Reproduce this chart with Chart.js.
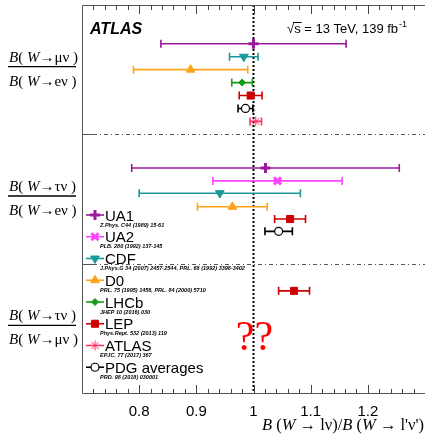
<!DOCTYPE html>
<html>
<head>
<meta charset="utf-8">
<script src="https://cdn.jsdelivr.net/npm/chart.js@4.4.0/dist/chart.umd.min.js"></script>
<style>
  body { margin: 0; background: #fff; }
  #wrap { width: 425px; height: 435px; }
</style>
</head>
<body>
<div id="wrap"><canvas id="myChart" width="425" height="435"></canvas></div>
<script>
// experiments, in legend order
const experiments = ["UA1", "UA2", "CDF", "D0", "LHCb", "LEP", "ATLAS", "PDG averages"];
const references = [
    "Z.Phys. C44 (1989) 15-61",
    "PLB. 280 (1992) 137-145",
    "J.Phys.G 34 (2007) 2457-2544, PRL. 68 (1992) 3398-3402",
    "PRL. 75 (1995) 1456, PRL. 84 (2000) 5710",
    "JHEP 10 (2016) 030",
    "Phys.Rept. 532 (2013) 119",
    "EPJC. 77 (2017) 367",
    "PRD. 98 (2018) 030001"
];
const colors = ["#9a1a9a", "#ff44ff", "#1a9a9a", "#ffa31a", "#1a9a1a", "#cc0000", "#ff3366", "#000000"];
const markers = ["cross", "crossRot", "triangle", "triangle", "rectRot", "rect", "star", "circle"];

// B(W->mu nu)/B(W->e nu)
const muE_val = [1.000, null, 0.983, 0.890, 0.980, 0.995, 1.004, 0.986];
const muE_err = [0.162, null, 0.025, 0.100, 0.018, 0.020, 0.010, 0.013];
const muE_row = [0.30, null, 0.40, 0.50, 0.60, 0.70, 0.90, 0.80];
// B(W->tau nu)/B(W->e nu)
const tauE_val = [1.021, 1.042, 0.941, 0.963, null, 1.064, null, 1.044];
const tauE_err = [0.234, 0.113, 0.141, 0.061, null, 0.027, null, 0.024];
const tauE_row = [1.26, 1.36, 1.455, 1.56, null, 1.655, null, 1.75];
// B(W->tau nu)/B(W->mu nu)
const tauMu_val = [null, null, null, null, null, 1.071, null, null];
const tauMu_err = [null, null, null, null, null, 0.027, null, null];
const tauMu_row = [null, null, null, null, null, 2.21, null, null];

// ratio labels (numerator lepton / denominator lepton)
const numerators = ["\u03bc\u03bd", "\u03c4\u03bd", "\u03c4\u03bd"];
const denominators = ["e\u03bd", "e\u03bd", "\u03bc\u03bd"];

// axis ends carry no label
const xTicks = [0.7, 0.8, 0.9, 1, 1.1, 1.2, 1.3];
const xLabels = ["", "0.8", "0.9", "1", "1.1", "1.2", ""];

function pointsFor(i) {
    const pts = [];
    [[muE_val, muE_err, muE_row], [tauE_val, tauE_err, tauE_row], [tauMu_val, tauMu_err, tauMu_row]]
        .forEach(([v, e, r]) => {
            if (v[i] !== null) pts.push({x: v[i], y: r[i], err: e[i]});
        });
    return pts;
}

const datasets = experiments.map((name, i) => ({
    label: name,
    data: pointsFor(i),
    pointStyle: markers[i],
    rotation: name === "CDF" ? 180 : 0,
    radius: name === "LHCb" ? 3.5 : (name === "PDG averages" ? 4 : 5),
    borderWidth: (name === "UA1" || name === "UA2") ? 3 : (name === "PDG averages" ? 1.2 : 1),
    borderColor: colors[i],
    backgroundColor: name === "PDG averages" ? "#ffffff" : colors[i]
}));

function richText(ctx, x, y, parts, size) {
    parts.forEach(([t, it]) => {
        ctx.font = (it ? "italic " : "") + size + "px 'Liberation Serif'";
        ctx.fillText(t, x, y);
        x += ctx.measureText(t).width;
    });
    return x;
}

function drawMarker(ctx, i, x, y) {
    Chart.helpers.drawPoint(ctx, {
        pointStyle: markers[i],
        radius: datasets[i].radius,
        rotation: datasets[i].rotation,
        borderWidth: datasets[i].borderWidth
    }, x, y);
}

const decor = {
    id: "decor",
    beforeDatasetsDraw(chart) {
        const {ctx, chartArea: a, scales: {x, y}} = chart;
        ctx.save();
        // section separators
        ctx.strokeStyle = "#555";
        ctx.lineWidth = 1;
        [1, 2].forEach(s => {
            const py = Math.round(y.getPixelForValue(s)) + 0.5;
            ctx.setLineDash([]);
            ctx.beginPath(); ctx.moveTo(a.left, py); ctx.lineTo(a.left + 11, py); ctx.stroke();
            ctx.setLineDash([4, 3, 1, 3]);
            ctx.beginPath(); ctx.moveTo(a.left + 11, py); ctx.lineTo(a.right, py); ctx.stroke();
        });
        // SM line at 1
        ctx.setLineDash([2, 2]);
        ctx.strokeStyle = "#000";
        ctx.lineWidth = 2;
        const p1 = x.getPixelForValue(1);
        ctx.beginPath(); ctx.moveTo(p1, a.top); ctx.lineTo(p1, a.bottom); ctx.stroke();
        ctx.setLineDash([]);
        // error bars
        chart.data.datasets.forEach((ds, i) => {
            ctx.strokeStyle = colors[i];
            ctx.lineWidth = 1.6;
            ds.data.forEach(p => {
                const py = y.getPixelForValue(p.y);
                const lo = x.getPixelForValue(p.x - p.err), hi = x.getPixelForValue(p.x + p.err);
                ctx.beginPath();
                ctx.moveTo(lo, py); ctx.lineTo(hi, py);
                ctx.moveTo(lo, py - 4); ctx.lineTo(lo, py + 4);
                ctx.moveTo(hi, py - 4); ctx.lineTo(hi, py + 4);
                ctx.stroke();
            });
        });
        ctx.restore();
    },
    afterDraw(chart) {
        const {ctx, chartArea: a, scales: {x, y}} = chart;
        ctx.save();
        // frame
        ctx.strokeStyle = "#555";
        ctx.lineWidth = 1;
        ctx.beginPath();
        ctx.moveTo(a.right, a.top + 0.5); ctx.lineTo(a.left + 0.5, a.top + 0.5);
        ctx.lineTo(a.left + 0.5, a.bottom + 0.5); ctx.lineTo(a.right, a.bottom + 0.5);
        ctx.stroke();
        // inward ticks, top and bottom
        ctx.strokeStyle = "#444";
        for (let k = 36; k <= 64; k++) {
            const v = k / 50;
            const px = Math.round(x.getPixelForValue(v)) + 0.5;
            const major = k % 5 === 0;
            const len = major ? 8 : 4;
            ctx.beginPath();
            ctx.moveTo(px, a.bottom); ctx.lineTo(px, a.bottom - len);
            ctx.moveTo(px, a.top); ctx.lineTo(px, a.top + len + 1);
            ctx.stroke();
        }
        // ATLAS label
        ctx.fillStyle = "#000";
        ctx.textBaseline = "alphabetic";
        ctx.font = "italic bold 16px 'Liberation Sans'";
        ctx.fillText("ATLAS", 90, 34);
        ctx.font = "13px 'Liberation Sans'";
        const sx = 287;
        ctx.fillText("\u221as = 13 TeV, 139 fb", sx, 33);
        const w1 = ctx.measureText("\u221a").width, w2 = ctx.measureText("\u221as").width;
        const wAll = ctx.measureText("\u221as = 13 TeV, 139 fb").width;
        ctx.lineWidth = 1;
        ctx.strokeStyle = "#000";
        ctx.beginPath(); ctx.moveTo(sx + w1 - 1, 22.5); ctx.lineTo(sx + w2 + 1, 22.5); ctx.stroke();
        ctx.font = "9px 'Liberation Sans'";
        ctx.fillText("-1", sx + wAll + 1, 27);
        // ratio labels on the left
        ctx.fillStyle = "#000";
        ctx.strokeStyle = "#000";
        for (let s = 0; s < 3; s++) {
            const mid = y.getPixelForValue(s + 0.5) - 3;
            ctx.lineWidth = 1.3;
            ctx.beginPath(); ctx.moveTo(8, mid); ctx.lineTo(76, mid); ctx.stroke();
            richText(ctx, 9, mid - 5, [["B", 1], ["( ", 0], ["W", 1], ["\u2192", 0], [numerators[s] + " ", 0], [")", 0]], 15);
            richText(ctx, 9, mid + 19, [["B", 1], ["( ", 0], ["W", 1], ["\u2192", 0], [denominators[s] + " ", 0], [")", 0]], 15);
        }
        // x axis title
        ctx.textAlign = "left";
        richText(ctx, 262, 430, [["B", 1], [" (", 0], ["W", 1], [" \u2192 l\u03bd)/", 0], ["B", 1], [" (", 0], ["W", 1], [" \u2192 l'\u03bd')", 0]], 16.5);
        // question marks
        ctx.fillStyle = "#ff0000";
        ctx.font = "42px 'Liberation Serif'";
        ctx.textAlign = "center";
        ctx.fillText("??", x.getPixelForValue(1) + 1, 350);
        // legend
        ctx.textAlign = "left";
        experiments.forEach((name, i) => {
            const ly = 215 + i * 21.75;
            ctx.strokeStyle = colors[i];
            ctx.lineWidth = 1.6;
            ctx.beginPath(); ctx.moveTo(86, ly); ctx.lineTo(104, ly); ctx.stroke();
            ctx.fillStyle = datasets[i].backgroundColor;
            ctx.strokeStyle = colors[i];
            ctx.lineWidth = datasets[i].borderWidth;
            drawMarker(ctx, i, 95, ly);
            ctx.fillStyle = "#000";
            ctx.font = "15px 'Liberation Sans'";
            ctx.fillText(name, 105, ly + 5.5);
            ctx.font = "italic bold 5.5px 'Liberation Sans'";
            ctx.fillText(references[i], 100, ly + 11.5);
        });
        ctx.restore();
    }
};

new Chart("myChart", {
    type: "scatter",
    data: { datasets: datasets },
    options: {
        responsive: false,
        animation: false,
        layout: { autoPadding: false, padding: { left: 82, top: 5, right: 0, bottom: 0 } },
        plugins: { legend: { display: false }, tooltip: { enabled: false } },
        scales: {
            x: {
                min: 0.7, max: 1.3,
                afterFit(s) { s.height = 42; s.paddingRight = 0; s.paddingLeft = 0; },
                afterBuildTicks(s) { s.ticks = xTicks.map(v => ({value: v})); },
                grid: { display: false },
                border: { display: false },
                ticks: {
                    color: "#000",
                    padding: 2,
                    font: { family: "'Liberation Sans'", size: 15 },
                    callback: (v, idx) => xLabels[idx]
                }
            },
            y: {
                min: 0, max: 3, reverse: true,
                display: false
            }
        }
    },
    plugins: [decor]
});
</script>
</body>
</html>
